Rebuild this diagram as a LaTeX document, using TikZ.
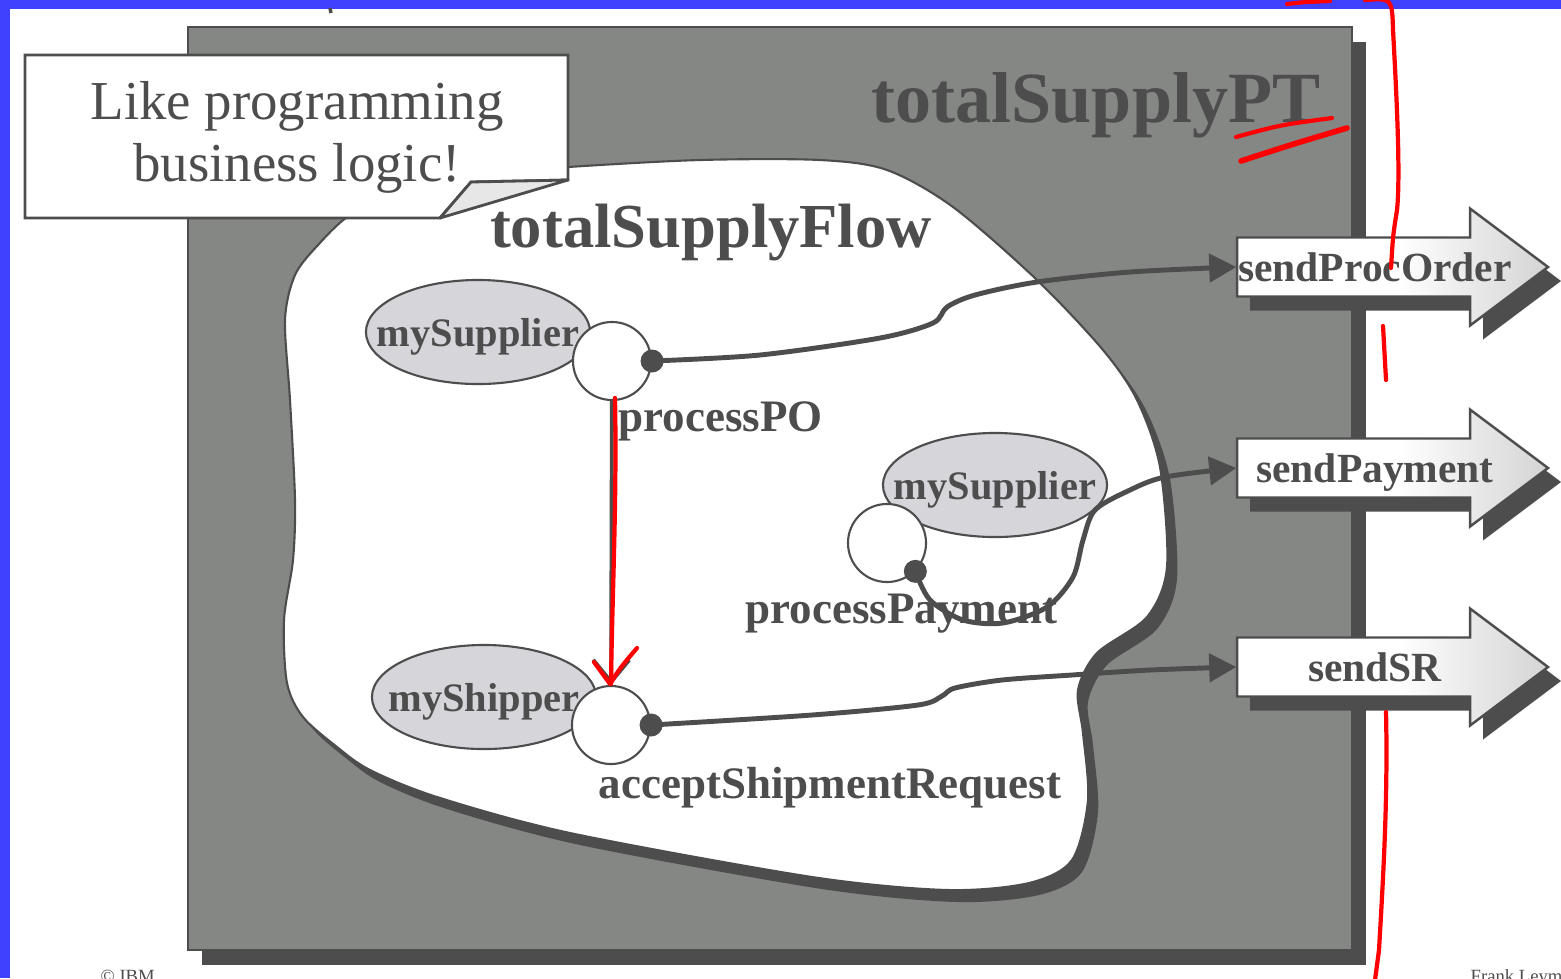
\documentclass[tikz,border=0pt]{standalone}
\usepackage{fontspec}
\setmainfont{Liberation Serif}
\usepackage{xcolor}
\usetikzlibrary{arrows.meta, positioning, shapes.geometric}

\definecolor{slideblue}{RGB}{64,64,255}
\definecolor{ptgray}{RGB}{133,135,132}
\definecolor{shadowgray}{RGB}{77,77,77}
\definecolor{partnergray}{RGB}{214,213,218}
\definecolor{tabgray}{RGB}{230,231,230}
\pgfdeclarehorizontalshading{portshade}{100bp}{color(0bp)=(white); color(51bp)=(white); color(64bp)=(tabgray); color(75bp)=(tabgray!92!black); color(100bp)=(tabgray!92!black)}

\begin{document}
\begin{tikzpicture}[
  x=0.01cm, y=-0.01cm,
  partner/.style={draw=shadowgray, line width=0.6pt, fill=partnergray, ellipse, minimum width=2.24cm, minimum height=1.04cm, inner sep=0pt},
  partnertext/.style={inner sep=0pt, yshift=-0.05cm, text=shadowgray, font=\fontsize{11.5}{13}\selectfont\bfseries},
  activity/.style={draw=shadowgray, line width=0.6pt, fill=white, circle, minimum size=0.78cm, inner sep=0pt},
  plug/.style={fill=shadowgray, circle, minimum size=0.23cm, inner sep=0pt},
  actlabel/.style={anchor=base west, inner sep=0pt, text=shadowgray, font=\fontsize{12.8}{14}\selectfont\bfseries},
  porttext/.style={anchor=base, inner sep=0pt, text=shadowgray, font=\fontsize{11.8}{13}\selectfont\bfseries},
  shaft/.style={minimum width=2.33cm, minimum height=0.59cm, inner sep=0pt},
  wire/.style={draw=shadowgray, line width=1.4pt, -{Triangle[length=0.27cm, width=0.28cm]}},
  redpen/.style={draw=red, line width=1.2pt, line cap=round, line join=round}
]

\useasboundingbox (0,0) rectangle (1561,978);
\fill[white] (0,0) rectangle (1561,978);
\fill[slideblue] (0,0) rectangle (1561,9);
\fill[slideblue] (0,0) rectangle (10,978);
\draw[shadowgray, line width=1pt] (330,8) -- (331,13);

% Port type
\draw[draw=shadowgray, line width=0.6pt, fill=ptgray, preaction={fill=shadowgray, transform canvas={shift={(14,15)}}}] (188,27) rectangle (1352,950);
\node[anchor=base, inner sep=0pt, text=shadowgray, font=\fontsize{20.5}{24}\selectfont\bfseries] (ptTitle) at (1096,122) {totalSupplyPT};

% Flow
\path[fill=white, draw=shadowgray, line width=0.6pt, preaction={fill=shadowgray, transform canvas={shift={(10,12)}}}]
  plot[smooth cycle, tension=0.5] coordinates {(568,167) (700,160) (820,160) (887,170) (953,207) (1037,280) (1103,350) (1137,400) (1160,467) (1167,567) (1147,617) (1097,653) (1078,690) (1083,733) (1088,800) (1072,860) (1029,883) (947,890) (812,877) (570,833) (437,797) (370,770) (337,747) (303,717) (287,683) (284,620) (293,560) (295,500) (290,400) (285,320) (295,275) (318,245) (350,215) (400,192) (470,175)};

% Callout
\draw[shadowgray, line width=0.8pt, fill=white] (25,55) -- (568,55) -- (568,180) -- (471,182) -- (440,218) -- (25,218) -- cycle;
\draw[shadowgray, line width=0.8pt, fill=tabgray, line join=round] (440,218) -- (471,182) -- (568,180) -- cycle;
\node[align=center, inner sep=0pt, text=shadowgray, font=\fontsize{15.6}{17.6}\selectfont] (hint) at (297,137) {Like programming\\business logic!};

\node[anchor=base, inner sep=0pt, text=shadowgray, font=\fontsize{17.8}{20}\selectfont\bfseries] (flowTitle) at (711,247) {totalSupplyFlow};

% Nodes
\node[partner, label={[partnertext]center:mySupplier}] (supplierA) at (478,332) {};
\node[partner, label={[partnertext]center:mySupplier}] (supplierB) at (995,485) {};
\node[partner, label={[partnertext]center:myShipper}] (shipper) at (484,697) {};

\node[activity] (circPO) at (612,361) {};
\node[activity] (circPay) at (887,543) {};
\node[activity] (circShip) at (611,725) {};

\node[plug] (dotPO) at (circPO.east) {};
\node[plug] (dotPay) at (circPay.-45) {};
\node[plug] (dotShip) at (circShip.east) {};

\node[actlabel] (poLabel) at (618,431) {processPO};
\node[actlabel] (payLabel) at (745,623) {processPayment};
\node[actlabel] (shipLabel) at (598,798) {acceptShipmentRequest};

\foreach \portname/\yy/\txt in {sendPO/267/sendProcOrder, sendPay/468/sendPayment, sendSR/667/sendSR} {
  \shadedraw[draw=shadowgray, line width=0.7pt, shading=portshade, preaction={fill=shadowgray, transform canvas={shift={(13,14)}}}]
    (1237,\yy-29.5) -- (1470,\yy-29.5) -- (1470,\yy-58.5) -- (1548,\yy) -- (1470,\yy+58.5) -- (1470,\yy+29.5) -- (1237,\yy+29.5) -- cycle;
  \node[shaft] (\portname) at (1353.5,\yy) {};
  \node[porttext] (\portname-txt) at (1375,\yy+14) {\txt};
}

% Pointers
\draw[wire] plot[smooth, tension=0.5] coordinates {(dotPO.center) (760,355) (880,338) (933,323) (947,307) (975,295) (1037,282) (1130,272) (sendPO.west)};
\draw[wire] plot[smooth, tension=0.5] coordinates {(dotPay.center) (930,600) (963,620) (1003,623) (1047,607) (1073,577) (1083,540) (1095,510) (1130,490) (1165,477) (sendPay.west)};
\draw[wire] plot[smooth, tension=0.5] coordinates {(dotShip.center) (812,715) (918,705) (942,696) (955,688) (1002,680) (1072,675) (1150,670) (sendSR.west)};
\draw[shadowgray, line width=1.1pt, -{Straight Barb[length=0.22cm, width=0.36cm]}] (circPO) -- (circShip);

% Footer
\node[anchor=base west, inner sep=0pt, text=shadowgray, font=\fontsize{5.3}{6}\selectfont] (copyNote) at (100,982) {© IBM};
\node[anchor=base west, inner sep=0pt, text=shadowgray, font=\fontsize{5.3}{6}\selectfont] (authorNote) at (1470,982) {Frank Leymann};

% Red pen
\draw[redpen] (615,398) .. controls (617,500) and (612,600) .. (611,684);
\draw[redpen] (594,662) -- (610,684) .. controls (620,668) .. (637,648);
\draw[redpen] (1287,4) .. controls (1305,2) .. (1330,1);
\draw[redpen] (1365,0) .. controls (1392,-2) .. (1393,30) .. controls (1398,120) and (1400,180) .. (1397,210) .. controls (1393,235) .. (1391,268);
\draw[redpen] (1236,137) .. controls (1280,125) .. (1332,118);
\draw[redpen, line width=1.6pt] (1241,161) .. controls (1290,145) .. (1347,128);
\draw[redpen] (1383,326) -- (1386,380);
\draw[redpen] (1386,712) .. controls (1388,800) and (1383,880) .. (1379,950) -- (1375,980);

\end{tikzpicture}
\end{document}
